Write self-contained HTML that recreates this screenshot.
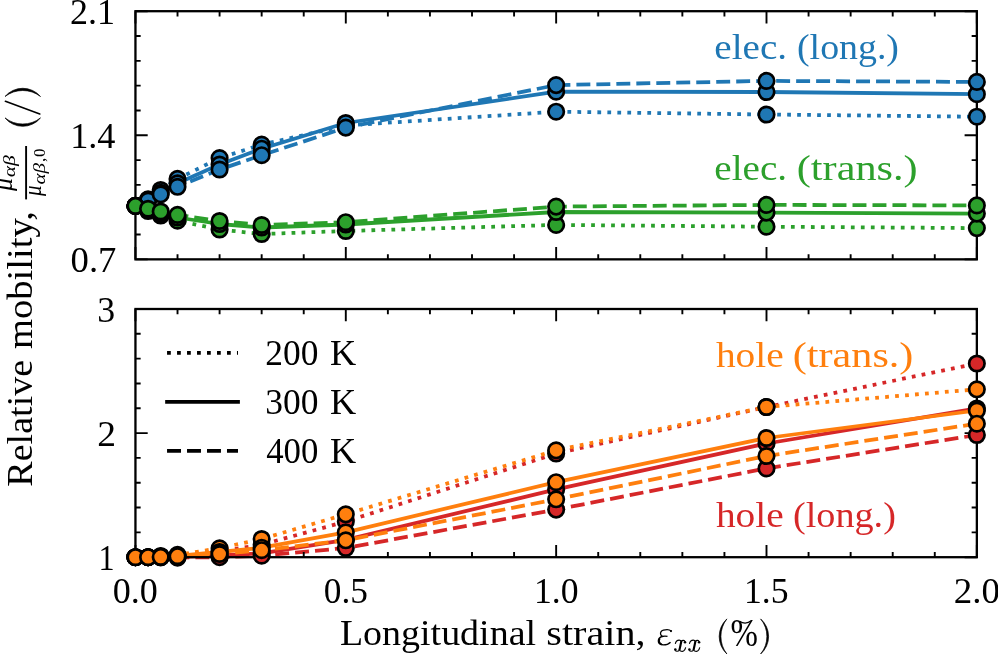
<!DOCTYPE html><html><head><meta charset="utf-8"><style>html,body{margin:0;padding:0;background:#fff;}svg{display:block;font-family:"Liberation Serif",serif;will-change:transform;}</style></head><body><svg width="998" height="654" viewBox="0 0 998 654"><rect width="998" height="654" fill="#fff"/><polyline points="135.45,205.90 148.07,199.40 160.69,190.00 177.52,178.90 219.59,158.10 261.66,144.60 345.80,125.50 556.15,111.70 766.50,114.50 976.85,116.70" fill="none" stroke="#1f77b4" stroke-width="3.77" stroke-linejoin="round" stroke-linecap="butt" stroke-dasharray="3.77 6.22"/><polyline points="135.45,205.90 148.07,200.00 160.69,192.70 177.52,183.30 219.59,164.50 261.66,148.70 345.80,123.00 556.15,91.70 766.50,92.00 976.85,94.20" fill="none" stroke="#1f77b4" stroke-width="3.77" stroke-linejoin="round" stroke-linecap="square"/><polyline points="135.45,205.90 148.07,200.60 160.69,194.30 177.52,186.80 219.59,169.50 261.66,155.20 345.80,127.60 556.15,85.10 766.50,80.90 976.85,81.90" fill="none" stroke="#1f77b4" stroke-width="3.77" stroke-linejoin="round" stroke-linecap="butt" stroke-dasharray="13.95 6.03"/><polyline points="135.45,205.90 148.07,211.00 160.69,215.50 177.52,220.70 219.59,229.50 261.66,234.00 345.80,231.00 556.15,224.90 766.50,226.70 976.85,228.10" fill="none" stroke="#2ca02c" stroke-width="3.77" stroke-linejoin="round" stroke-linecap="butt" stroke-dasharray="3.77 6.22"/><polyline points="135.45,205.90 148.07,210.00 160.69,213.50 177.52,217.50 219.59,224.00 261.66,227.50 345.80,224.50 556.15,212.00 766.50,212.60 976.85,213.60" fill="none" stroke="#2ca02c" stroke-width="3.77" stroke-linejoin="round" stroke-linecap="square"/><polyline points="135.45,205.90 148.07,208.75 160.69,211.50 177.52,214.90 219.59,221.00 261.66,225.00 345.80,222.20 556.15,206.60 766.50,204.90 976.85,205.40" fill="none" stroke="#2ca02c" stroke-width="3.77" stroke-linejoin="round" stroke-linecap="butt" stroke-dasharray="13.95 6.03"/><path d="M135.45 259.35v-12.25M135.45 11.20v12.25M345.80 259.35v-12.25M345.80 11.20v12.25M556.15 259.35v-12.25M556.15 11.20v12.25M766.50 259.35v-12.25M766.50 11.20v12.25M976.85 259.35v-12.25M976.85 11.20v12.25M177.52 259.35v-5.2M177.52 11.20v5.2M219.59 259.35v-5.2M219.59 11.20v5.2M261.66 259.35v-5.2M261.66 11.20v5.2M303.73 259.35v-5.2M303.73 11.20v5.2M387.87 259.35v-5.2M387.87 11.20v5.2M429.94 259.35v-5.2M429.94 11.20v5.2M472.01 259.35v-5.2M472.01 11.20v5.2M514.08 259.35v-5.2M514.08 11.20v5.2M598.22 259.35v-5.2M598.22 11.20v5.2M640.29 259.35v-5.2M640.29 11.20v5.2M682.36 259.35v-5.2M682.36 11.20v5.2M724.43 259.35v-5.2M724.43 11.20v5.2M808.57 259.35v-5.2M808.57 11.20v5.2M850.64 259.35v-5.2M850.64 11.20v5.2M892.71 259.35v-5.2M892.71 11.20v5.2M934.78 259.35v-5.2M934.78 11.20v5.2M135.45 11.20h12.25M976.85 11.20h-12.25M135.45 135.28h12.25M976.85 135.28h-12.25M135.45 259.35h12.25M976.85 259.35h-12.25M135.45 234.54h5.2M976.85 234.54h-5.2M135.45 209.72h5.2M976.85 209.72h-5.2M135.45 184.91h5.2M976.85 184.91h-5.2M135.45 160.09h5.2M976.85 160.09h-5.2M135.45 110.46h5.2M976.85 110.46h-5.2M135.45 85.65h5.2M976.85 85.65h-5.2M135.45 60.83h5.2M976.85 60.83h-5.2M135.45 36.01h5.2M976.85 36.01h-5.2" stroke="#000" stroke-width="1.9" fill="none"/><rect x="135.45" y="11.20" width="841.40" height="248.15" fill="none" stroke="#000" stroke-width="2.3" stroke-linejoin="miter"/><g fill="#1f77b4" stroke="#000" stroke-width="2.7"><circle cx="135.45" cy="205.90" r="7.72"/><circle cx="148.07" cy="199.40" r="7.72"/><circle cx="160.69" cy="190.00" r="7.72"/><circle cx="177.52" cy="178.90" r="7.72"/><circle cx="219.59" cy="158.10" r="7.72"/><circle cx="261.66" cy="144.60" r="7.72"/><circle cx="345.80" cy="125.50" r="7.72"/><circle cx="556.15" cy="111.70" r="7.72"/><circle cx="766.50" cy="114.50" r="7.72"/><circle cx="976.85" cy="116.70" r="7.72"/></g><g fill="#1f77b4" stroke="#000" stroke-width="2.7"><circle cx="135.45" cy="205.90" r="7.72"/><circle cx="148.07" cy="200.00" r="7.72"/><circle cx="160.69" cy="192.70" r="7.72"/><circle cx="177.52" cy="183.30" r="7.72"/><circle cx="219.59" cy="164.50" r="7.72"/><circle cx="261.66" cy="148.70" r="7.72"/><circle cx="345.80" cy="123.00" r="7.72"/><circle cx="556.15" cy="91.70" r="7.72"/><circle cx="766.50" cy="92.00" r="7.72"/><circle cx="976.85" cy="94.20" r="7.72"/></g><g fill="#1f77b4" stroke="#000" stroke-width="2.7"><circle cx="135.45" cy="205.90" r="7.72"/><circle cx="148.07" cy="200.60" r="7.72"/><circle cx="160.69" cy="194.30" r="7.72"/><circle cx="177.52" cy="186.80" r="7.72"/><circle cx="219.59" cy="169.50" r="7.72"/><circle cx="261.66" cy="155.20" r="7.72"/><circle cx="345.80" cy="127.60" r="7.72"/><circle cx="556.15" cy="85.10" r="7.72"/><circle cx="766.50" cy="80.90" r="7.72"/><circle cx="976.85" cy="81.90" r="7.72"/></g><g fill="#2ca02c" stroke="#000" stroke-width="2.7"><circle cx="135.45" cy="205.90" r="7.72"/><circle cx="148.07" cy="211.00" r="7.72"/><circle cx="160.69" cy="215.50" r="7.72"/><circle cx="177.52" cy="220.70" r="7.72"/><circle cx="219.59" cy="229.50" r="7.72"/><circle cx="261.66" cy="234.00" r="7.72"/><circle cx="345.80" cy="231.00" r="7.72"/><circle cx="556.15" cy="224.90" r="7.72"/><circle cx="766.50" cy="226.70" r="7.72"/><circle cx="976.85" cy="228.10" r="7.72"/></g><g fill="#2ca02c" stroke="#000" stroke-width="2.7"><circle cx="135.45" cy="205.90" r="7.72"/><circle cx="148.07" cy="210.00" r="7.72"/><circle cx="160.69" cy="213.50" r="7.72"/><circle cx="177.52" cy="217.50" r="7.72"/><circle cx="219.59" cy="224.00" r="7.72"/><circle cx="261.66" cy="227.50" r="7.72"/><circle cx="345.80" cy="224.50" r="7.72"/><circle cx="556.15" cy="212.00" r="7.72"/><circle cx="766.50" cy="212.60" r="7.72"/><circle cx="976.85" cy="213.60" r="7.72"/></g><g fill="#2ca02c" stroke="#000" stroke-width="2.7"><circle cx="135.45" cy="205.90" r="7.72"/><circle cx="148.07" cy="208.75" r="7.72"/><circle cx="160.69" cy="211.50" r="7.72"/><circle cx="177.52" cy="214.90" r="7.72"/><circle cx="219.59" cy="221.00" r="7.72"/><circle cx="261.66" cy="225.00" r="7.72"/><circle cx="345.80" cy="222.20" r="7.72"/><circle cx="556.15" cy="206.60" r="7.72"/><circle cx="766.50" cy="204.90" r="7.72"/><circle cx="976.85" cy="205.40" r="7.72"/></g><polyline points="135.45,557.20 148.07,557.20 160.69,556.80 177.52,555.60 219.59,551.50 261.66,544.70 345.80,521.60 556.15,453.50 766.50,407.00 976.85,363.50" fill="none" stroke="#d62728" stroke-width="3.77" stroke-linejoin="round" stroke-linecap="butt" stroke-dasharray="3.77 6.22"/><polyline points="135.45,557.20 148.07,557.20 160.69,557.00 177.52,556.80 219.59,555.50 261.66,553.40 345.80,539.80 556.15,489.40 766.50,443.50 976.85,408.50" fill="none" stroke="#d62728" stroke-width="3.77" stroke-linejoin="round" stroke-linecap="square"/><polyline points="135.45,557.20 148.07,557.20 160.69,557.40 177.52,557.60 219.59,557.20 261.66,555.70 345.80,548.00 556.15,509.60 766.50,468.40 976.85,435.00" fill="none" stroke="#d62728" stroke-width="3.77" stroke-linejoin="round" stroke-linecap="butt" stroke-dasharray="13.95 6.03"/><polyline points="135.45,557.20 148.07,557.20 160.69,556.00 177.52,554.80 219.59,548.30 261.66,539.00 345.80,514.30 556.15,450.30 766.50,407.00 976.85,389.30" fill="none" stroke="#ff7f0e" stroke-width="3.77" stroke-linejoin="round" stroke-linecap="butt" stroke-dasharray="3.77 6.22"/><polyline points="135.45,557.20 148.07,557.20 160.69,556.60 177.52,556.00 219.59,552.00 261.66,547.70 345.80,532.30 556.15,482.20 766.50,438.00 976.85,410.50" fill="none" stroke="#ff7f0e" stroke-width="3.77" stroke-linejoin="round" stroke-linecap="square"/><polyline points="135.45,557.20 148.07,557.20 160.69,556.90 177.52,556.20 219.59,554.00 261.66,550.20 345.80,540.30 556.15,499.30 766.50,456.00 976.85,423.70" fill="none" stroke="#ff7f0e" stroke-width="3.77" stroke-linejoin="round" stroke-linecap="butt" stroke-dasharray="13.95 6.03"/><path d="M135.45 557.20v-12.25M135.45 309.00v12.25M345.80 557.20v-12.25M345.80 309.00v12.25M556.15 557.20v-12.25M556.15 309.00v12.25M766.50 557.20v-12.25M766.50 309.00v12.25M976.85 557.20v-12.25M976.85 309.00v12.25M177.52 557.20v-5.2M177.52 309.00v5.2M219.59 557.20v-5.2M219.59 309.00v5.2M261.66 557.20v-5.2M261.66 309.00v5.2M303.73 557.20v-5.2M303.73 309.00v5.2M387.87 557.20v-5.2M387.87 309.00v5.2M429.94 557.20v-5.2M429.94 309.00v5.2M472.01 557.20v-5.2M472.01 309.00v5.2M514.08 557.20v-5.2M514.08 309.00v5.2M598.22 557.20v-5.2M598.22 309.00v5.2M640.29 557.20v-5.2M640.29 309.00v5.2M682.36 557.20v-5.2M682.36 309.00v5.2M724.43 557.20v-5.2M724.43 309.00v5.2M808.57 557.20v-5.2M808.57 309.00v5.2M850.64 557.20v-5.2M850.64 309.00v5.2M892.71 557.20v-5.2M892.71 309.00v5.2M934.78 557.20v-5.2M934.78 309.00v5.2M135.45 557.20h12.25M976.85 557.20h-12.25M135.45 433.10h12.25M976.85 433.10h-12.25M135.45 309.00h12.25M976.85 309.00h-12.25M135.45 532.38h5.2M976.85 532.38h-5.2M135.45 507.56h5.2M976.85 507.56h-5.2M135.45 482.74h5.2M976.85 482.74h-5.2M135.45 457.92h5.2M976.85 457.92h-5.2M135.45 408.28h5.2M976.85 408.28h-5.2M135.45 383.46h5.2M976.85 383.46h-5.2M135.45 358.64h5.2M976.85 358.64h-5.2M135.45 333.82h5.2M976.85 333.82h-5.2" stroke="#000" stroke-width="1.9" fill="none"/><rect x="135.45" y="309.00" width="841.40" height="248.20" fill="none" stroke="#000" stroke-width="2.3" stroke-linejoin="miter"/><g fill="#d62728" stroke="#000" stroke-width="2.7"><circle cx="135.45" cy="557.20" r="7.72"/><circle cx="148.07" cy="557.20" r="7.72"/><circle cx="160.69" cy="556.80" r="7.72"/><circle cx="177.52" cy="555.60" r="7.72"/><circle cx="219.59" cy="551.50" r="7.72"/><circle cx="261.66" cy="544.70" r="7.72"/><circle cx="345.80" cy="521.60" r="7.72"/><circle cx="556.15" cy="453.50" r="7.72"/><circle cx="766.50" cy="407.00" r="7.72"/><circle cx="976.85" cy="363.50" r="7.72"/></g><g fill="#d62728" stroke="#000" stroke-width="2.7"><circle cx="135.45" cy="557.20" r="7.72"/><circle cx="148.07" cy="557.20" r="7.72"/><circle cx="160.69" cy="557.00" r="7.72"/><circle cx="177.52" cy="556.80" r="7.72"/><circle cx="219.59" cy="555.50" r="7.72"/><circle cx="261.66" cy="553.40" r="7.72"/><circle cx="345.80" cy="539.80" r="7.72"/><circle cx="556.15" cy="489.40" r="7.72"/><circle cx="766.50" cy="443.50" r="7.72"/><circle cx="976.85" cy="408.50" r="7.72"/></g><g fill="#d62728" stroke="#000" stroke-width="2.7"><circle cx="135.45" cy="557.20" r="7.72"/><circle cx="148.07" cy="557.20" r="7.72"/><circle cx="160.69" cy="557.40" r="7.72"/><circle cx="177.52" cy="557.60" r="7.72"/><circle cx="219.59" cy="557.20" r="7.72"/><circle cx="261.66" cy="555.70" r="7.72"/><circle cx="345.80" cy="548.00" r="7.72"/><circle cx="556.15" cy="509.60" r="7.72"/><circle cx="766.50" cy="468.40" r="7.72"/><circle cx="976.85" cy="435.00" r="7.72"/></g><g fill="#ff7f0e" stroke="#000" stroke-width="2.7"><circle cx="135.45" cy="557.20" r="7.72"/><circle cx="148.07" cy="557.20" r="7.72"/><circle cx="160.69" cy="556.00" r="7.72"/><circle cx="177.52" cy="554.80" r="7.72"/><circle cx="219.59" cy="548.30" r="7.72"/><circle cx="261.66" cy="539.00" r="7.72"/><circle cx="345.80" cy="514.30" r="7.72"/><circle cx="556.15" cy="450.30" r="7.72"/><circle cx="766.50" cy="407.00" r="7.72"/><circle cx="976.85" cy="389.30" r="7.72"/></g><g fill="#ff7f0e" stroke="#000" stroke-width="2.7"><circle cx="135.45" cy="557.20" r="7.72"/><circle cx="148.07" cy="557.20" r="7.72"/><circle cx="160.69" cy="556.60" r="7.72"/><circle cx="177.52" cy="556.00" r="7.72"/><circle cx="219.59" cy="552.00" r="7.72"/><circle cx="261.66" cy="547.70" r="7.72"/><circle cx="345.80" cy="532.30" r="7.72"/><circle cx="556.15" cy="482.20" r="7.72"/><circle cx="766.50" cy="438.00" r="7.72"/><circle cx="976.85" cy="410.50" r="7.72"/></g><g fill="#ff7f0e" stroke="#000" stroke-width="2.7"><circle cx="135.45" cy="557.20" r="7.72"/><circle cx="148.07" cy="557.20" r="7.72"/><circle cx="160.69" cy="556.90" r="7.72"/><circle cx="177.52" cy="556.20" r="7.72"/><circle cx="219.59" cy="554.00" r="7.72"/><circle cx="261.66" cy="550.20" r="7.72"/><circle cx="345.80" cy="540.30" r="7.72"/><circle cx="556.15" cy="499.30" r="7.72"/><circle cx="766.50" cy="456.00" r="7.72"/><circle cx="976.85" cy="423.70" r="7.72"/></g><path d="M726.9 618.9A23.85 23.85 0 0 0 726.9 654.0A28.67 28.67 0 0 1 726.9 618.9Z" fill="#000" stroke="#000" stroke-width="0.7"/><path d="M760.6 618.9A23.25 23.25 0 0 1 760.6 654.0A27.6 27.6 0 0 0 760.6 618.9Z" fill="#000" stroke="#000" stroke-width="0.7"/><path d="M739.6 621.2Q745.4 625.2 751.6 620.6" fill="none" stroke="#000" stroke-width="1.2"/><g transform="translate(655,626) scale(0.03361)"><path d="M480,150C440,112 340,100 250,125C180,145 150,200 170,255C180,285 200,300 218,306" fill="none" stroke="#000" stroke-width="38"/><circle cx="476" cy="152" r="34" fill="#000"/><path d="M205,312C260,302 320,300 372,311" fill="none" stroke="#000" stroke-width="40"/><path d="M218,306C150,330 100,390 100,450C100,520 170,562 250,562C340,562 420,522 462,480" fill="none" stroke="#000" stroke-width="42"/><path d="M140,370C105,430 110,510 200,550" fill="none" stroke="#000" stroke-width="54"/></g><g transform="translate(672,636) scale(0.02753)"><path d="M120,285C140,200 210,150 260,150C300,150 322,168 332,195" fill="none" stroke="#000" stroke-width="40"/><path d="M338,180C380,148 440,150 470,190" fill="none" stroke="#000" stroke-width="40"/><circle cx="472" cy="224" r="46" fill="#000"/><path d="M342,172C325,260 300,380 268,518" fill="none" stroke="#000" stroke-width="76"/><circle cx="120" cy="488" r="46" fill="#000"/><path d="M112,515C140,565 220,575 268,515" fill="none" stroke="#000" stroke-width="40"/><path d="M272,505C292,562 380,575 425,540C462,510 485,460 497,410" fill="none" stroke="#000" stroke-width="40"/></g><g transform="translate(686.1,636) scale(0.02753)"><path d="M120,285C140,200 210,150 260,150C300,150 322,168 332,195" fill="none" stroke="#000" stroke-width="40"/><path d="M338,180C380,148 440,150 470,190" fill="none" stroke="#000" stroke-width="40"/><circle cx="472" cy="224" r="46" fill="#000"/><path d="M342,172C325,260 300,380 268,518" fill="none" stroke="#000" stroke-width="76"/><circle cx="120" cy="488" r="46" fill="#000"/><path d="M112,515C140,565 220,575 268,515" fill="none" stroke="#000" stroke-width="40"/><path d="M272,505C292,562 380,575 425,540C462,510 485,460 497,410" fill="none" stroke="#000" stroke-width="40"/></g><path d="M167.05 352.9H238" stroke="#000" stroke-width="3.77" stroke-dasharray="3.77 6.22"/><path d="M167.05 401.86H238" stroke="#000" stroke-width="3.77" stroke-linecap="square"/><path d="M167.05 450.9H238" stroke="#000" stroke-width="3.77" stroke-dasharray="13.95 6.03"/><text x="70.00" y="23.7" font-size="36" fill="#000" textLength="45.00" lengthAdjust="spacingAndGlyphs">2.1</text><text x="70.18" y="147.8" font-size="36" fill="#000" textLength="45.33" lengthAdjust="spacingAndGlyphs">1.4</text><text x="70.58" y="272.0" font-size="36" fill="#000" textLength="45.84" lengthAdjust="spacingAndGlyphs">0.7</text><text x="97.21" y="321.6" font-size="36" fill="#000" textLength="17.88" lengthAdjust="spacingAndGlyphs">3</text><text x="97.21" y="445.7" font-size="36" fill="#000" textLength="18.77" lengthAdjust="spacingAndGlyphs">2</text><text x="98.52" y="569.8" font-size="36" fill="#000" textLength="16.06" lengthAdjust="spacingAndGlyphs">1</text><text x="112.80" y="602.6" font-size="36" fill="#000" textLength="45.10" lengthAdjust="spacingAndGlyphs">0.0</text><text x="323.82" y="602.6" font-size="36" fill="#000" textLength="44.06" lengthAdjust="spacingAndGlyphs">0.5</text><text x="533.93" y="602.6" font-size="36" fill="#000" textLength="44.56" lengthAdjust="spacingAndGlyphs">1.0</text><text x="743.93" y="602.6" font-size="36" fill="#000" textLength="44.56" lengthAdjust="spacingAndGlyphs">1.5</text><text x="953.85" y="602.6" font-size="36" fill="#000" textLength="46.18" lengthAdjust="spacingAndGlyphs">2.0</text><text x="714.33" y="58.6" font-size="36.5" fill="#1f77b4" textLength="72.75" lengthAdjust="spacingAndGlyphs">elec.</text><text x="797.03" y="58.6" font-size="36.5" fill="#1f77b4" textLength="101.95" lengthAdjust="spacingAndGlyphs">(long.)</text><text x="714.33" y="179.8" font-size="36.5" fill="#2ca02c" textLength="72.75" lengthAdjust="spacingAndGlyphs">elec.</text><text x="796.79" y="179.8" font-size="36.5" fill="#2ca02c" textLength="120.82" lengthAdjust="spacingAndGlyphs">(trans.)</text><text x="715.90" y="366.8" font-size="36.5" fill="#ff7f0e" textLength="67.81" lengthAdjust="spacingAndGlyphs">hole</text><text x="792.79" y="366.8" font-size="36.5" fill="#ff7f0e" textLength="120.62" lengthAdjust="spacingAndGlyphs">(trans.)</text><text x="715.90" y="526.8" font-size="36.5" fill="#d62728" textLength="67.81" lengthAdjust="spacingAndGlyphs">hole</text><text x="793.01" y="526.8" font-size="36.5" fill="#d62728" textLength="102.88" lengthAdjust="spacingAndGlyphs">(long.)</text><text x="265.34" y="365.3" font-size="36" fill="#000" textLength="53.05" lengthAdjust="spacingAndGlyphs">200</text><text x="329.99" y="365.3" font-size="36" fill="#000" textLength="26.21" lengthAdjust="spacingAndGlyphs">K</text><text x="265.23" y="414.27" font-size="36" fill="#000" textLength="53.15" lengthAdjust="spacingAndGlyphs">300</text><text x="329.99" y="414.27" font-size="36" fill="#000" textLength="26.21" lengthAdjust="spacingAndGlyphs">K</text><text x="266.23" y="463.24" font-size="36" fill="#000" textLength="52.13" lengthAdjust="spacingAndGlyphs">400</text><text x="329.99" y="463.24" font-size="36" fill="#000" textLength="26.21" lengthAdjust="spacingAndGlyphs">K</text><text x="339.95" y="645.0" font-size="36" fill="#000" textLength="196.09" lengthAdjust="spacingAndGlyphs">Longitudinal</text><text x="546.37" y="645.0" font-size="36" fill="#000" textLength="99.14" lengthAdjust="spacingAndGlyphs">strain,</text><text x="730.50" y="646.4" font-size="41" fill="#000" textLength="27.43" lengthAdjust="spacingAndGlyphs">%</text><g transform="translate(31.8,485.9) rotate(-90)"><text x="-0.76" y="0" font-size="36" textLength="126.76" lengthAdjust="spacingAndGlyphs">Relative</text><text x="136.93" y="0" font-size="36" textLength="137.83" lengthAdjust="spacingAndGlyphs">mobility,</text><text x="295.00" y="-20.3" font-size="25" font-style="italic" textLength="12.98" lengthAdjust="spacingAndGlyphs">μ</text><text x="308.7" y="-17.3" text-anchor="start" fill="#000" font-size="17" textLength="22" lengthAdjust="spacingAndGlyphs" font-style="italic">αβ</text><rect x="286.5" y="-6.65" width="53.39999999999998" height="1.9" fill="#000"/><text x="289.90" y="9.0" font-size="25" font-style="italic" textLength="10.57" lengthAdjust="spacingAndGlyphs">μ</text><text x="301.4" y="12.7" text-anchor="start" fill="#000" font-size="17" textLength="21.5" lengthAdjust="spacingAndGlyphs" font-style="italic">αβ</text><text x="324.0" y="12.7" text-anchor="start" fill="#000" font-size="17">,</text><text x="329.0" y="12.7" text-anchor="start" fill="#000" font-size="17">0</text></g><path d="M5 96.5A23.3 23.3 0 0 1 40.5 96.5A29.26 29.26 0 0 0 5 96.5Z" fill="#000" stroke="#000" stroke-width="0.7"/><path d="M5 117.9A22.95 22.95 0 0 0 40.5 117.9A28.87 28.87 0 0 1 5 117.9Z" fill="#000" stroke="#000" stroke-width="0.7"/><path d="M5.4 101.3L39.8 114.0" stroke="#000" stroke-width="1.6" stroke-linecap="round"/></svg></body></html>
